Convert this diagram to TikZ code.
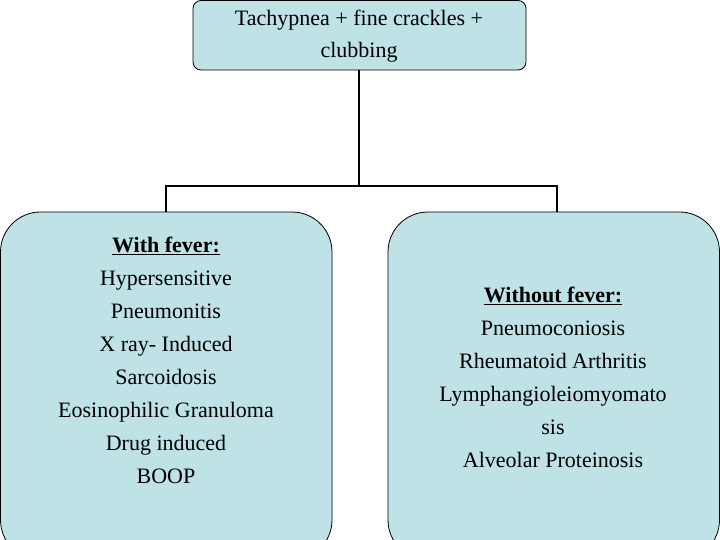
\documentclass[tikz,border=0pt]{standalone}
\usepackage{fontspec}
\setmainfont{Liberation Serif}
\begin{document}
\begin{tikzpicture}[x=1pt,y=-1pt,
  box/.style={draw=black,line width=0.8pt,fill={rgb,255:red,190;green,226;blue,230}},
  txt/.style={align=center,font=\fontsize{22}{33}\selectfont},
  ln/.style={line width=1.6pt}]
\useasboundingbox (0,0) rectangle (720,540);
\clip (0,0) rectangle (720,540);
\draw[box,rounded corners=8] (193,0.5) rectangle (526,70);
\node[txt,font=\fontsize{22}{32}\selectfont] (top) at (359,36) {Tachypnea + fine crackles +\\clubbing};
\draw[box,rounded corners=40] (0.5,212) rectangle (332,560);
\draw[box,rounded corners=40] (388,212) rectangle (719.5,560);
\coordinate (t) at (359,70);
\coordinate (j) at (359,186);
\coordinate (l) at (166,212);
\coordinate (r) at (557,212);
\draw[ln] (t) -- (j);
\draw[ln] (l) -- (166,186) -- (557,186) -- (r);
\node[txt] (left) at (166,360) {\textbf{\underline{With fever:}}\\Hypersensitive\\Pneumonitis\\X ray- Induced\\Sarcoidosis\\Eosinophilic Granuloma\\Drug induced\\BOOP};
\node[txt] (right) at (553,377) {\textbf{\underline{Without fever:}}\\Pneumoconiosis\\Rheumatoid Arthritis\\Lymphangioleiomyomato\\sis\\Alveolar Proteinosis};
\end{tikzpicture}
\end{document}
